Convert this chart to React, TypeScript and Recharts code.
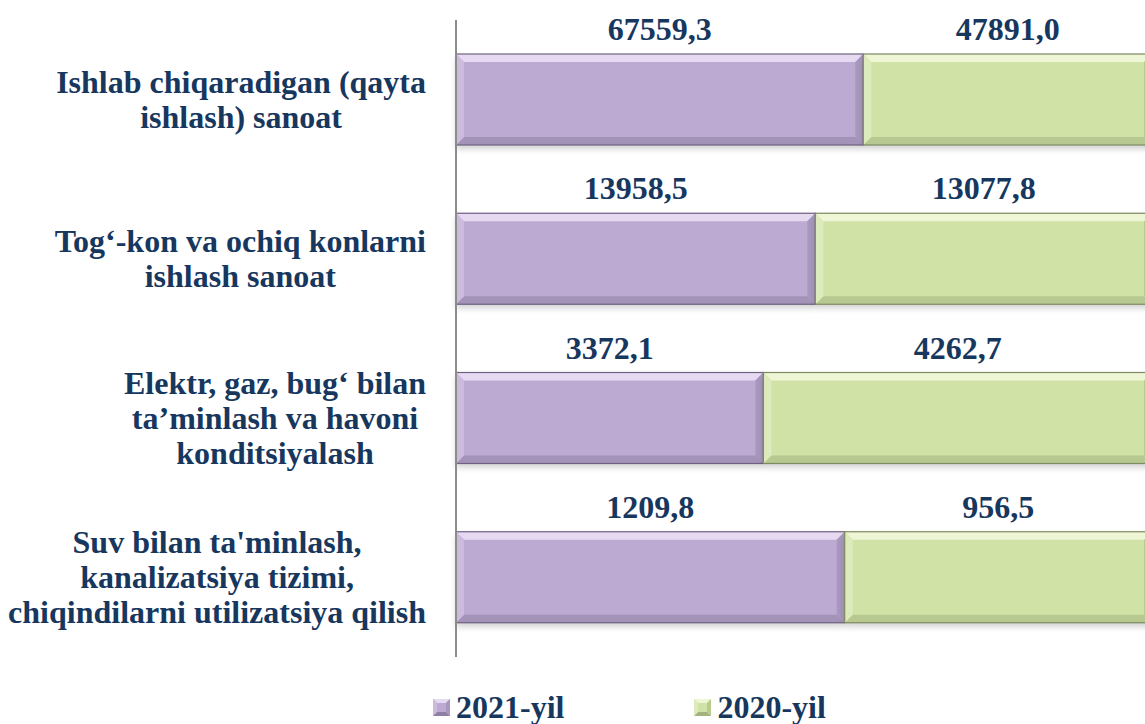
import React from 'react';
import { BarChart, Bar, XAxis, YAxis, Legend, LabelList } from 'recharts';

const categories = [
  'Ishlab chiqaradigan (qayta\nishlash) sanoat',
  'Tog‘-kon va ochiq konlarni\nishlash sanoat',
  'Elektr, gaz, bug‘ bilan\nta’minlash va havoni\nkonditsiyalash',
  "Suv bilan ta'minlash,\nkanalizatsiya tizimi,\nchiqindilarni utilizatsiya qilish",
];
const values2021 = [67559.3, 13958.5, 3372.1, 1209.8];
const values2020 = [47891.0, 13077.8, 4262.7, 956.5];
const seriesNames = ['2021-yil', '2020-yil'];

const data = categories.map((name, i) => ({ name, y2021: values2021[i], y2020: values2020[i] }));

const TEXT = '#17375E';
const FONT = "'Liberation Serif', 'Times New Roman', serif";
const FS = 32;

const PAL = {
  purple: { body: '#BDAAD2', light: '#E6DAF2', dark: '#8F7FA3', side: '#CBBBDD', rside: '#A898BE', edge: '#6E6280' },
  green: { body: '#D1E2A7', light: '#EEF6D5', dark: '#A3B27F', side: '#DDEABB', rside: '#BACB8F', edge: '#7E8A62' },
};

let _ctx: CanvasRenderingContext2D | null = null;
function measure(t: string) {
  if (!_ctx) {
    const c = document.createElement('canvas');
    _ctx = c.getContext('2d');
  }
  if (!_ctx) return t.length * FS * 0.45;
  _ctx.font = `bold ${FS}px 'Liberation Serif'`;
  return _ctx.measureText(t).width;
}

const CatTick = (props: any) => {
  const { x, y, payload } = props;
  const lines = String(payload.value).split('\n');
  const maxW = Math.max(...lines.map(measure));
  const cx = x - maxW / 2;
  const lh = 35;
  const n = lines.length;
  return (
    <g>
      {lines.map((l, i) => (
        <text key={i} x={cx} y={y + (i - (n - 1) / 2) * lh + FS * 0.33} textAnchor="middle"
          fontFamily={FONT} fontWeight="bold" fontSize={FS} fill={TEXT}>{l}</text>
      ))}
    </g>
  );
};

const makeShape = (p: typeof PAL.purple) => (props: any) => {
  const { x, y, width: w, height: h } = props;
  if (!w || w <= 0) return null;
  const b = 8;
  return (
    <g>
      <rect x={x} y={y + 4} width={w} height={h} fill="#000" opacity={0.18} filter="url(#shadowBlur)" />
      <rect x={x} y={y} width={w} height={h} fill={p.body} />
      <polygon points={`${x},${y} ${x + w},${y} ${x + w - b},${y + b} ${x + b},${y + b}`} fill={p.light} />
      <polygon points={`${x},${y + h} ${x + w},${y + h} ${x + w - b},${y + h - b} ${x + b},${y + h - b}`} fill={p.dark} opacity={0.55} />
      <polygon points={`${x},${y} ${x + b},${y + b} ${x + b},${y + h - b} ${x},${y + h}`} fill={p.side} />
      <polygon points={`${x + w},${y} ${x + w - b},${y + b} ${x + w - b},${y + h - b} ${x + w},${y + h}`} fill={p.rside} />
      <rect x={x} y={y} width={w} height={h} fill="none" stroke={p.edge} strokeWidth={1.2} />
    </g>
  );
};

const fmt = (v: number) => v.toFixed(1).replace('.', ',');

const makeLabel = (vals: number[]) => (props: any) => {
  const { x, y, width, index } = props;
  return (
    <text x={x + width / 2} y={y - 14} textAnchor="middle" fontFamily={FONT} fontWeight="bold"
      fontSize={FS} fill={TEXT}>{fmt(vals[index])}</text>
  );
};

const LegendSwatch = ({ p }: { p: typeof PAL.purple }) => (
  <svg width={17} height={17} style={{ marginRight: 6 }}>
    <rect x={0} y={0} width={17} height={17} fill={p.body} />
    <polygon points="0,0 17,0 13,4 4,4" fill={p.light} />
    <polygon points="0,17 17,17 13,13 4,13" fill={p.dark} />
    <polygon points="0,0 4,4 4,13 0,17" fill={p.side} />
    <polygon points="17,0 13,4 13,13 17,17" fill={p.rside} />
  </svg>
);

const LegendContent = () => (
  <div style={{ display: 'flex', alignItems: 'center', marginLeft: 433, height: 32 }}>
    {seriesNames.map((n, i) => (
      <div key={n} style={{ display: 'flex', alignItems: 'center', marginRight: i === 0 ? 130 : 0 }}>
        <LegendSwatch p={i === 0 ? PAL.purple : PAL.green} />
        <span style={{ fontFamily: FONT, fontWeight: 'bold', fontSize: FS, color: TEXT, lineHeight: '32px' }}>{n}</span>
      </div>
    ))}
  </div>
);

export default function App() {
  return (
    <div style={{ position: 'fixed', left: 0, top: 0, width: 1145, height: 724, overflow: 'hidden', background: '#fff' }}>
      <BarChart width={1160} height={724} data={data} layout="vertical" stackOffset="expand"
        margin={{ top: 20, right: 8, bottom: 35, left: 0 }}>
        <defs>
          <filter id="shadowBlur" x="-5%" y="-20%" width="110%" height="160%">
            <feGaussianBlur stdDeviation="3" />
          </filter>
        </defs>
        <XAxis type="number" hide domain={[0, 1]} />
        <YAxis type="category" dataKey="name" width={456} axisLine={{ stroke: '#8C8C8C', strokeWidth: 2 }}
          tickLine={false} tickSize={0} tickMargin={30} tick={<CatTick />} interval={0} />
        <Legend verticalAlign="bottom" content={<LegendContent />}
          wrapperStyle={{ position: 'absolute', top: 691, left: 0, width: 1145, height: 32 }} />
        <Bar dataKey="y2021" name={seriesNames[0]} stackId="a" barSize={91} isAnimationActive={false}
          shape={makeShape(PAL.purple)}>
          <LabelList dataKey="y2021" content={makeLabel(values2021)} />
        </Bar>
        <Bar dataKey="y2020" name={seriesNames[1]} stackId="a" barSize={91} isAnimationActive={false}
          shape={makeShape(PAL.green)}>
          <LabelList dataKey="y2020" content={makeLabel(values2020)} />
        </Bar>
      </BarChart>
    </div>
  );
}
